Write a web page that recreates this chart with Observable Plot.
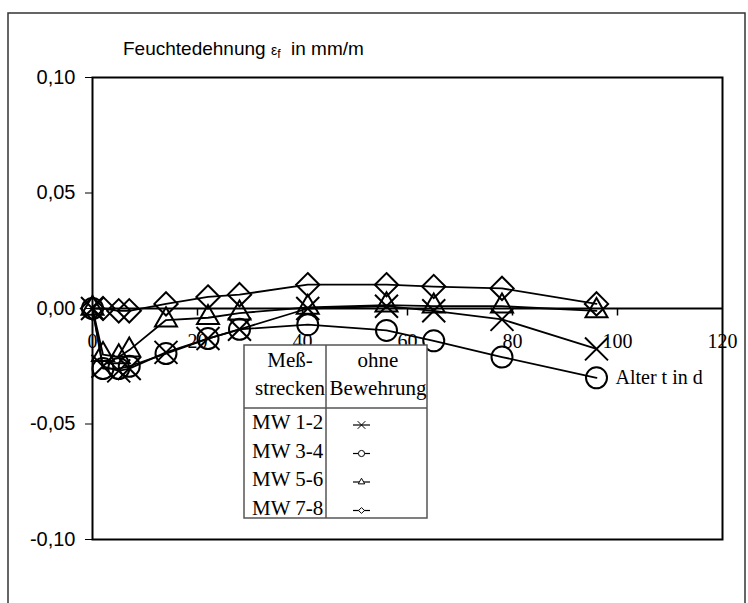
<!DOCTYPE html>
<html>
<head>
<meta charset="utf-8">
<script src="https://cdn.jsdelivr.net/npm/d3@7"></script>
<script src="https://cdn.jsdelivr.net/npm/@observablehq/plot@0.6"></script>
<style>
  html, body { margin: 0; padding: 0; background: white; }
  svg { display: block; }
</style>
</head>
<body>
<script>
// ---- data ----
const days = [0, 2, 5, 7, 14, 22, 28, 41, 56, 65, 78, 96];
const seriesNames = ["MW 1-2", "MW 3-4", "MW 5-6", "MW 7-8"];
const seriesSymbols = ["times", "circle", "triangle2", "diamond2"];
const mw12 = [0, -0.025, -0.027, -0.026, -0.019, -0.013, -0.009, 0.000, 0.001, -0.001, -0.0047, -0.0175];
const mw34 = [0, -0.026, -0.026, -0.025, -0.0195, -0.013, -0.009, -0.007, -0.0095, -0.014, -0.021, -0.030];
const mw56 = [0, -0.020, -0.021, -0.018, -0.005, -0.004, -0.002, 0.0005, 0.0015, 0.001, 0.001, -0.001];
const mw78 = [0, 0, -0.001, -0.001, 0.002, 0.005, 0.006, 0.0103, 0.0103, 0.0095, 0.0087, 0.002];
const xTicks = [0, 20, 40, 60, 80, 100, 120];
const yTicks = [-0.10, -0.05, 0.00, 0.05, 0.10];
const titleMain = "Feuchtedehnung ";
const titleSym = "ε";
const titleSub = "f";
const titleUnit = "  in mm/m";
const xLabel = "Alter t in d";
const legendHead1 = ["Meß-", "strecken"];
const legendHead2 = ["ohne", "Bewehrung"];

const values = [mw12, mw34, mw56, mw78];
const rows = seriesNames.flatMap((s, k) => days.map((t, i) => ({series: s, t, v: values[k][i]})));
const lastCircle = rows.filter(d => d.series === "MW 3-4").at(-1);

const serif = "Liberation Serif, Times New Roman, serif";
const sans = "Liberation Sans, Arial, sans-serif";

// small downward tick glyph for the x axis drawn at y = 0
const tickDown = {draw(context) { context.moveTo(0, 0); context.lineTo(0, 7); }};

const plot = Plot.plot({
  width: 748,
  height: 603,
  marginLeft: 92,
  marginRight: 26,
  marginTop: 77,
  marginBottom: 64,
  style: {fontFamily: sans, fontSize: "20px", background: "white", color: "black"},
  x: {domain: [0, 120], axis: null},
  y: {domain: [-0.1, 0.1], ticks: yTicks, tickFormat: d => d.toFixed(2).replace(".", ","), tickSize: 7, tickPadding: 10, label: null},
  marks: [
    Plot.frame({stroke: "black", strokeWidth: 2}),
    Plot.ruleY([0], {stroke: "black", strokeWidth: 2}),
    Plot.dot(xTicks.slice(1, -1), {x: d => d, y: 0, symbol: tickDown, r: 4, stroke: "black", strokeWidth: 1.5, fill: "none"}),
    Plot.text(xTicks, {x: d => d, y: 0, dy: 33, text: d => String(d), fontFamily: serif, fontSize: 20, fill: "black"}),
    Plot.text([lastCircle], {x: "t", y: "v", dx: 19, text: () => xLabel, textAnchor: "start", fontFamily: serif, fontSize: 20, fill: "black"}),
    Plot.line(rows, {x: "t", y: "v", z: "series", stroke: "black", strokeWidth: 1.8}),
    ...seriesNames.map((s, k) => Plot.dot(rows.filter(d => d.series === s), {
      x: "t", y: "v", symbol: seriesSymbols[k], r: 10.5, stroke: "black", strokeWidth: 2, fill: "none"
    }))
  ]
});

document.body.appendChild(plot);
const svg = d3.select(plot);

// outer frame
svg.append("rect").attr("x", 8).attr("y", 13).attr("width", 737).attr("height", 640)
  .attr("fill", "none").attr("stroke", "#333").attr("stroke-width", 1.5);

// title
const tt = svg.append("text").attr("x", 123).attr("y", 48).attr("dy", "0.35em")
  .attr("text-anchor", "start")
  .attr("font-family", sans).attr("font-size", 19).attr("fill", "black");
tt.append("tspan").text(titleMain);
tt.append("tspan").attr("font-size", 14).text(titleSym);
tt.append("tspan").attr("font-size", 12).attr("dy", 3).text(titleSub);
tt.append("tspan").attr("dy", -3).attr("xml:space", "preserve").text(titleUnit);

// legend table
const lg = svg.append("g").attr("font-family", serif).attr("font-size", 21).attr("fill", "black");
lg.append("rect").attr("x", 244).attr("y", 345).attr("width", 183).attr("height", 173)
  .attr("fill", "white").attr("stroke", "#555").attr("stroke-width", 1.5);
lg.append("line").attr("x1", 326).attr("x2", 326).attr("y1", 345).attr("y2", 518).attr("stroke", "#555").attr("stroke-width", 1.5);
lg.append("line").attr("x1", 244).attr("x2", 427).attr("y1", 408).attr("y2", 408).attr("stroke", "#555").attr("stroke-width", 1.5);
legendHead1.forEach((t, i) => lg.append("text").attr("x", 290).attr("y", 360 + i * 28).attr("dy", "0.35em").attr("text-anchor", "middle").text(t));
legendHead2.forEach((t, i) => lg.append("text").attr("x", 378).attr("y", 360 + i * 28).attr("dy", "0.35em").attr("text-anchor", "middle").text(t));
const d3sym = {times: d3.symbolTimes, circle: d3.symbolCircle, triangle2: d3.symbolTriangle2, diamond2: d3.symbolDiamond2};
const symSize = {times: 40, circle: 30, triangle2: 30, diamond2: 22};
seriesNames.forEach((s, k) => {
  const y = 422 + k * 28.5;
  lg.append("text").attr("x", 252).attr("y", y).attr("dy", "0.35em").attr("text-anchor", "start").text(s);
  lg.append("line").attr("x1", 353).attr("x2", 370).attr("y1", y + 3).attr("y2", y + 3).attr("stroke", "black").attr("stroke-width", 1.2);
  lg.append("path").attr("transform", `translate(361.5,${y + 3})`)
    .attr("d", d3.symbol(d3sym[seriesSymbols[k]], symSize[seriesSymbols[k]])())
    .attr("fill", "white").attr("stroke", "black").attr("stroke-width", 1);
});
</script>
</body>
</html>
